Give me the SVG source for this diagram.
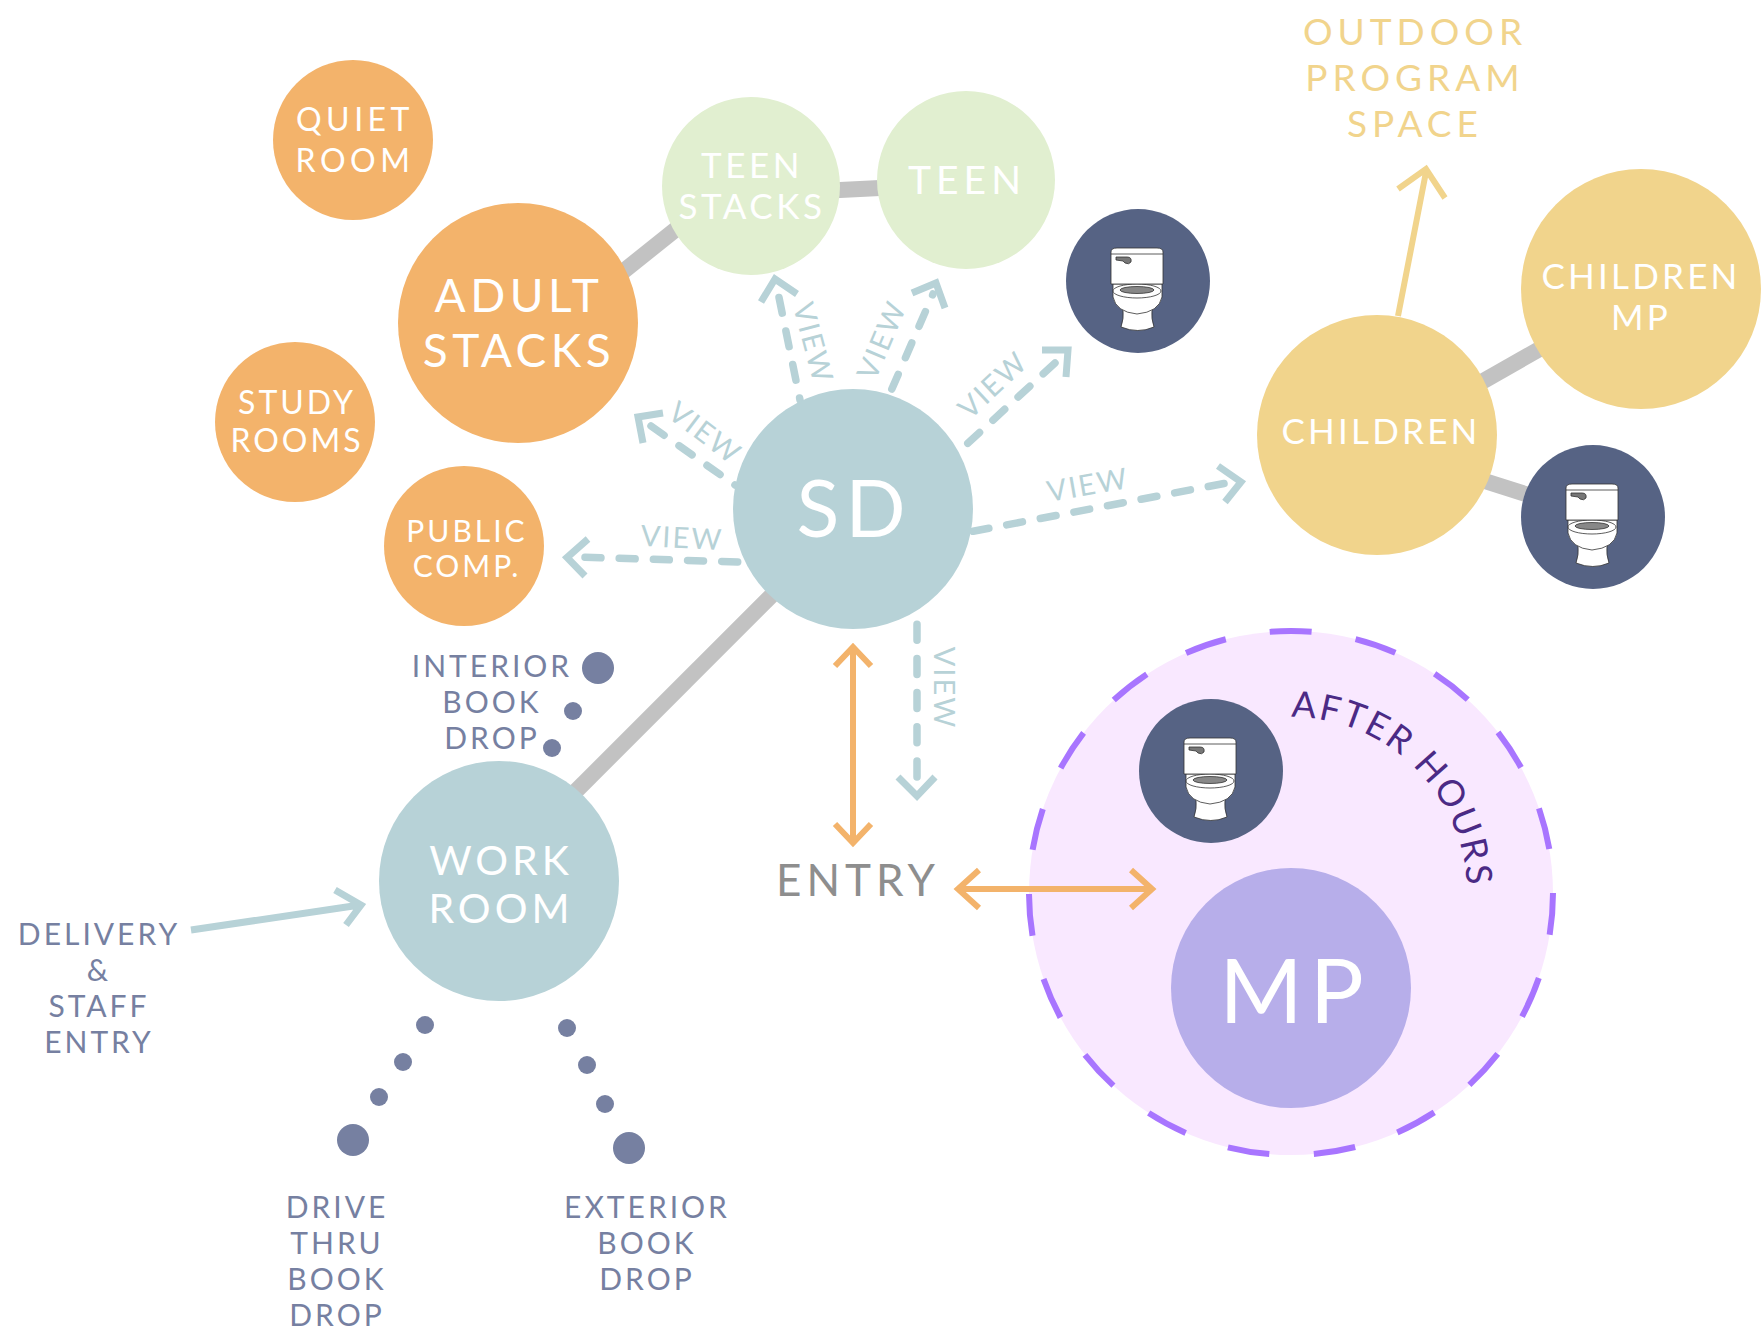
<svg xmlns="http://www.w3.org/2000/svg" xmlns:xlink="http://www.w3.org/1999/xlink" width="1763" height="1331" viewBox="0 0 1763 1331">
<style>
text{font-family:"Lato","Open Sans","Liberation Sans",sans-serif;text-anchor:middle}
.w{fill:#fff}
.s32{font-size:32px;letter-spacing:3px}
.q{font-size:32px;letter-spacing:4.500px}
.pc{font-size:30px;letter-spacing:3px}
.s36{font-size:35px;letter-spacing:3.500px}
.ch{font-size:35px;letter-spacing:3.200px}
.s48{font-size:46px;letter-spacing:4.500px}
.wr{font-size:41px;letter-spacing:4px}
.g{fill:#7680A1;font-size:30px;letter-spacing:3px}
.v{fill:#B7D2D7;font-size:29px;letter-spacing:2px}
.y{fill:#F1D48C;font-size:37px;letter-spacing:5px}
.bar{stroke:#C2C2C2;stroke-width:16;fill:none}
.dash{stroke:#B7D2D7;stroke-width:7.500;fill:none;stroke-dasharray:16 18.200;stroke-linecap:round}
.head{stroke:#B7D2D7;stroke-width:7;fill:none}
.or{stroke:#F3B36B;stroke-width:6;fill:none}
.ye{stroke:#F1D48C;stroke-width:6;fill:none}
.dot{fill:#7680A1}
</style>
<defs>
<g id="toilet" stroke="#333" stroke-width="0.8">
<path d="M-15 28 Q-14 38 -17 46 Q0 53 16 46 Q13 38 14 28Z" fill="#fff"/>
<path d="M-25 3 L24 3 L24 16 Q21 31 -1 33 Q-22 31 -25 16Z" fill="#fff"/>
<ellipse cx="-1" cy="10" rx="24" ry="7" fill="#fff"/>
<ellipse cx="-1" cy="9" rx="17" ry="3.500" fill="#888"/>
<path d="M-27 3 L-27 -29 Q-27 -33 -21 -33 L19 -33 Q25 -33 25 -29 L25 3Z" fill="#fff"/>
<path d="M-27 -27 L25 -27" fill="none"/>
<path d="M-22 -24 L-11 -24 Q-6 -24 -7 -19 Q-9 -16 -13 -18 L-15 -20 L-22 -21Z" fill="#777"/>
</g>
<path id="arc" d="M1291 717 A176 176 0 0 1 1291 1069"/>
</defs>
<g id="connectors">
<path class="bar" d="M600 290L700 210"/>
<path class="bar" d="M800 192L920 186"/>
<path class="bar" d="M800 567L548 819"/>
<path class="bar" d="M1450 400L1580 326"/>
<path class="bar" d="M1450 470L1560 505"/>
<path class="ye" d="M1398 316L1426 172M1398 189L1426 169L1445 198"/>
<path class="dash" d="M779 297.500L800 400"/>
<path class="head" d="M761 302L775 279L797 294"/>
<path class="dash" d="M933 294L891 391" stroke-dashoffset="15"/>
<path class="head" d="M912 293L936 283L945 308"/>
<path class="dash" d="M1055 363L966 445"/>
<path class="head" d="M1042 350L1068 350L1066 377"/>
<path class="dash" d="M651 426L735 485"/>
<path class="head" d="M663 413L638 417L643 443"/>
<path class="dash" d="M585 557.300L740 562"/>
<path class="head" d="M588 539L567 557.500L585 576"/>
<path class="dash" d="M1224 483.500L972 531.500"/>
<path class="head" d="M1218 466L1241 482L1225 502"/>
<path class="dash" d="M917 777L917 622"/>
<path class="head" d="M898 777L917 796L935 777"/>
<path class="head" d="M191 930L360 905M335 890L361 905L346 925"/>
</g>
<g id="after-hours">
<circle cx="1291" cy="893" r="262" fill="#F9E8FF" stroke="#A875FF" stroke-width="6" stroke-dasharray="42 44.63"/>
<text style="text-anchor:start;font-size:36px;letter-spacing:2.500px" fill="#4B2A85"><textPath href="#arc" xlink:href="#arc" startOffset="0">AFTER HOURS</textPath></text>
</g>
<g id="entry-arrows">
<path class="or" d="M853 649L853 843M835 666L853 647L871 666M835 824L853 843L871 824"/>
<path class="or" d="M958 889L1150 889M979 870L958 889L979 908M1131 870L1152 889L1131 908"/>
</g>
<g id="quiet-room"><circle cx="353" cy="140" r="80" fill="#F3B36B"/><text class="w q" x="355" y="131">QUIET</text><text class="w q" x="355" y="172">ROOM</text></g>
<g id="adult-stacks"><circle cx="518" cy="323" r="120" fill="#F3B36B"/><text class="w s48" x="519" y="312">ADULT</text><text class="w s48" x="519" y="367">STACKS</text></g>
<g id="study-rooms"><circle cx="295" cy="422" r="80" fill="#F3B36B"/><text class="w s32" x="297" y="414">STUDY</text><text class="w s32" x="297" y="452">ROOMS</text></g>
<g id="public-comp"><circle cx="464" cy="546" r="80" fill="#F3B36B"/><text class="w pc" x="467" y="542">PUBLIC</text><text class="w pc" x="467" y="577">COMP.</text></g>
<g id="teen-stacks"><circle cx="751" cy="186" r="89" fill="#E1EFD0"/><text class="w s36" x="752" y="178">TEEN</text><text class="w s36" x="752" y="219">STACKS</text></g>
<g id="teen"><circle cx="966" cy="180" r="89" fill="#E1EFD0"/><text class="w" x="967" y="194" style="font-size:39px;letter-spacing:5px">TEEN</text></g>
<g id="restroom-1"><circle cx="1138" cy="281" r="72" fill="#566384"/><use href="#toilet" xlink:href="#toilet" x="1138" y="281"/></g>
<g id="sd"><circle cx="853" cy="509" r="120" fill="#B7D2D7"/><text class="w" x="854" y="537" style="font-size:79px;letter-spacing:6px">SD</text></g>
<g id="children"><circle cx="1377" cy="435" r="120" fill="#F1D48C"/><text class="w ch" x="1381" y="444">CHILDREN</text></g>
<g id="children-mp"><circle cx="1641" cy="289" r="120" fill="#F1D48C"/><text class="w ch" x="1641" y="289">CHILDREN</text><text class="w ch" x="1641" y="330">MP</text></g>
<g id="restroom-2"><circle cx="1593" cy="517" r="72" fill="#566384"/><use href="#toilet" xlink:href="#toilet" x="1593" y="517"/></g>
<g id="restroom-3"><circle cx="1211" cy="771" r="72" fill="#566384"/><use href="#toilet" xlink:href="#toilet" x="1211" y="771"/></g>
<g id="mp"><circle cx="1291" cy="988" r="120" fill="#B7AEEA"/><text class="w" x="1295" y="1023" style="font-size:90px;letter-spacing:7px">MP</text></g>
<g id="work-room"><circle cx="499" cy="881" r="120" fill="#B7D2D7"/><text class="w wr" x="501" y="875">WORK</text><text class="w wr" x="501" y="923">ROOM</text></g>
<g id="labels">
<text class="y" x="1415" y="45">OUTDOOR</text><text class="y" x="1415" y="91">PROGRAM</text><text class="y" x="1415" y="137">SPACE</text>
<text style="font-size:44px;letter-spacing:5px" fill="#8E8E8E" x="858" y="896">ENTRY</text>
<text class="g" x="492" y="677">INTERIOR</text><text class="g" x="492" y="713">BOOK</text><text class="g" x="492" y="749">DROP</text>
<text class="g" x="99" y="945">DELIVERY</text><text class="g" x="99" y="981">&amp;</text><text class="g" x="99" y="1017">STAFF</text><text class="g" x="99" y="1053">ENTRY</text>
<text class="g" x="337" y="1218">DRIVE</text><text class="g" x="337" y="1254">THRU</text><text class="g" x="337" y="1290">BOOK</text><text class="g" x="337" y="1326">DROP</text>
<text class="g" x="647" y="1218">EXTERIOR</text><text class="g" x="647" y="1254">BOOK</text><text class="g" x="647" y="1290">DROP</text>
<text class="v" y="10" transform="translate(682 538) rotate(3)">VIEW</text>
<text class="v" y="10" transform="translate(705 433) rotate(37)">VIEW</text>
<text class="v" y="10" transform="translate(813 343) rotate(75)">VIEW</text>
<text class="v" y="10" transform="translate(882 340) rotate(-67)">VIEW</text>
<text class="v" y="10" transform="translate(993 385) rotate(-43)">VIEW</text>
<text class="v" y="10" transform="translate(1088 485) rotate(-10)">VIEW</text>
<text class="v" y="10" transform="translate(944 688) rotate(90)">VIEW</text>
</g>
<g id="dots">
<circle class="dot" cx="598" cy="668" r="16"/><circle class="dot" cx="573" cy="711" r="9"/><circle class="dot" cx="552" cy="748" r="9"/>
<circle class="dot" cx="425" cy="1025" r="9"/><circle class="dot" cx="403" cy="1062" r="9"/><circle class="dot" cx="379" cy="1097" r="9"/><circle class="dot" cx="353" cy="1140" r="16"/>
<circle class="dot" cx="567" cy="1028" r="9"/><circle class="dot" cx="587" cy="1065" r="9"/><circle class="dot" cx="605" cy="1104" r="9"/><circle class="dot" cx="629" cy="1148" r="16"/>
</g>
</svg>
